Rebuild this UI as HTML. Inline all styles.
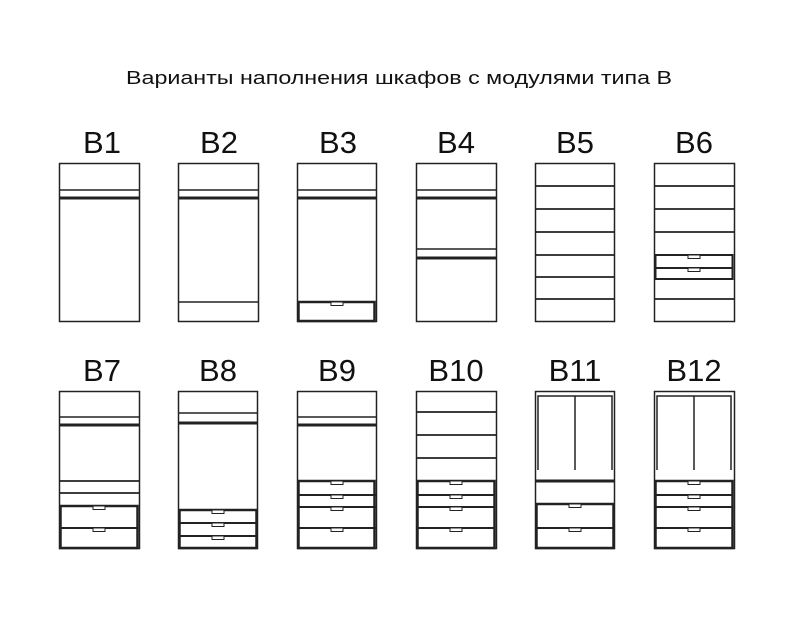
<!DOCTYPE html>
<html><head><meta charset="utf-8"><style>
html,body{margin:0;padding:0;background:#fff;}
svg{display:block;}
text{font-family:"Liberation Sans",Arial,sans-serif;fill:#111;}
</style></head><body>
<svg width="800" height="620" viewBox="0 0 800 620" xmlns="http://www.w3.org/2000/svg">
<defs>
<g id="h"><rect x="-6" y="0" width="12" height="3.5" fill="#fff" stroke="#222" stroke-width="1"/></g>
</defs>
<text x="399" y="84" font-size="18.5" text-anchor="middle" textLength="546" lengthAdjust="spacingAndGlyphs">Варианты наполнения шкафов с модулями типа B</text>
<g font-size="31" text-anchor="middle">
<text x="102" y="153">B1</text><text x="219" y="153">B2</text><text x="338" y="153">B3</text>
<text x="456" y="153">B4</text><text x="575" y="153">B5</text><text x="694" y="153">B6</text>
<text x="102" y="381">B7</text><text x="218" y="381">B8</text><text x="337" y="381">B9</text>
<text x="456" y="381">B10</text><text x="575" y="381">B11</text><text x="694" y="381">B12</text>
</g>
<g fill="none" stroke="#222" stroke-width="1.5">
<rect x="59.5" y="163.5" width="80" height="158"/>
<rect x="178.5" y="163.5" width="80" height="158"/>
<rect x="297.5" y="163.5" width="79" height="158"/>
<rect x="416.5" y="163.5" width="80" height="158"/>
<rect x="535.5" y="163.5" width="79" height="158"/>
<rect x="654.5" y="163.5" width="80" height="158"/>
<rect x="59.5" y="391.5" width="80" height="157"/>
<rect x="178.5" y="391.5" width="79" height="157"/>
<rect x="297.5" y="391.5" width="79" height="157"/>
<rect x="416.5" y="391.5" width="80" height="157"/>
<rect x="535.5" y="391.5" width="79" height="157"/>
<rect x="654.5" y="391.5" width="80" height="157"/>
</g>
<g stroke="#222" fill="none">
<path d="M59 190H139" stroke-width="1.5"/><path d="M59 198H139" stroke-width="3"/>
<path d="M178 190H258" stroke-width="1.5"/><path d="M178 198H258" stroke-width="3"/>
<path d="M178 302H258" stroke-width="1.5"/>
<path d="M297 190H376" stroke-width="1.5"/><path d="M297 198H376" stroke-width="3"/>
<rect x="298.5" y="302" width="76" height="19" stroke-width="2.5"/>
<path d="M416 190H496" stroke-width="1.5"/><path d="M416 198H496" stroke-width="3"/>
<path d="M416 249H496" stroke-width="1.5"/><path d="M416 258H496" stroke-width="3"/>
<path d="M535 186H614M535 209H614M535 232H614M535 255H614M535 277H614M535 299H614" stroke-width="1.8"/>
<path d="M654 186H734M654 209H734M654 232H734M654 299H734" stroke-width="1.8"/>
<rect x="655.5" y="255" width="77" height="24" stroke-width="2"/>
<path d="M655 268H733" stroke-width="2"/>
<path d="M59 417H139" stroke-width="1.5"/><path d="M59 425H139" stroke-width="3"/>
<path d="M59 481H139M59 493H139" stroke-width="1.8"/>
<rect x="60.5" y="506" width="77" height="42" stroke-width="2.5"/>
<path d="M60 528H138" stroke-width="2"/>
<path d="M178 413H257" stroke-width="1.5"/><path d="M178 423H257" stroke-width="3"/>
<rect x="179.5" y="510" width="77" height="38" stroke-width="2.5"/>
<path d="M179 523H257M179 536H257" stroke-width="2"/>
<path d="M297 417H376" stroke-width="1.5"/><path d="M297 425H376" stroke-width="3"/>
<rect x="298.5" y="481" width="76" height="67" stroke-width="2.5"/>
<path d="M298 495H376M298 507H376M298 528H376" stroke-width="2"/>
<path d="M416 412H496M416 435H496M416 458H496" stroke-width="1.8"/>
<rect x="417.5" y="481" width="77" height="67" stroke-width="2.5"/>
<path d="M417 495H495M417 507H495M417 528H495" stroke-width="2"/>
<path d="M538 470V396H612V470M575 396V470" stroke-width="1.5"/>
<path d="M535 481H614" stroke-width="3"/>
<rect x="536.5" y="504" width="77" height="44" stroke-width="2.5"/>
<path d="M536 528H614" stroke-width="2"/>
<path d="M657 470V396H731V470M694 396V470" stroke-width="1.5"/>
<rect x="655.5" y="481" width="77" height="67" stroke-width="2.5"/>
<path d="M655 495H733M655 507H733M655 528H733" stroke-width="2"/>
</g>
<use href="#h" x="337" y="302"/>
<use href="#h" x="694" y="255"/><use href="#h" x="694" y="268"/>
<use href="#h" x="99" y="506"/><use href="#h" x="99" y="528"/>
<use href="#h" x="218" y="510"/><use href="#h" x="218" y="523"/><use href="#h" x="218" y="536"/>
<use href="#h" x="337" y="481"/><use href="#h" x="337" y="495"/><use href="#h" x="337" y="507"/><use href="#h" x="337" y="528"/>
<use href="#h" x="456" y="481"/><use href="#h" x="456" y="495"/><use href="#h" x="456" y="507"/><use href="#h" x="456" y="528"/>
<use href="#h" x="575" y="504"/><use href="#h" x="575" y="528"/>
<use href="#h" x="694" y="481"/><use href="#h" x="694" y="495"/><use href="#h" x="694" y="507"/><use href="#h" x="694" y="528"/>
</svg>
</body></html>
